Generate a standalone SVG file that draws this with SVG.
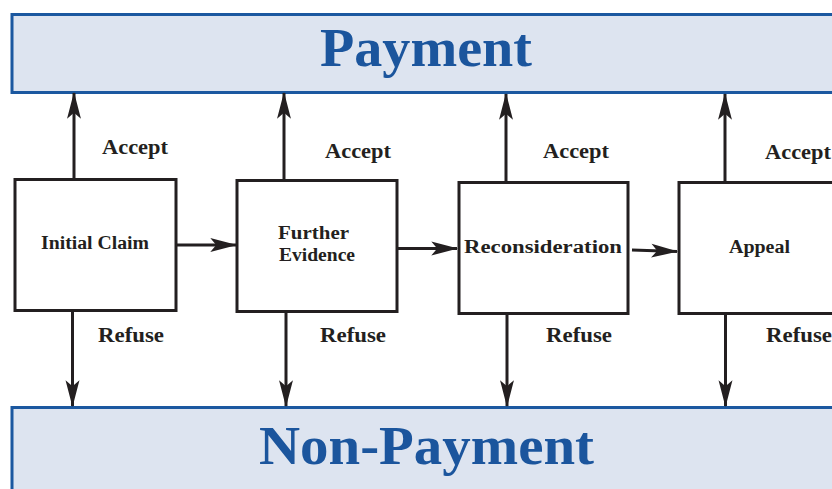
<svg xmlns="http://www.w3.org/2000/svg" width="832" height="489" viewBox="0 0 832 489">
  <defs>
    <marker id="head" markerUnits="userSpaceOnUse" markerWidth="30" markerHeight="20" viewBox="-26 -8 28 16" refX="0" refY="0" orient="auto">
      <path d="M1,0 L-24,-6.5 L-18.5,0 L-24,6.5 Z" fill="#231f20"/>
    </marker>
    <style>
      .bar { fill: #dde4f0; stroke: #1b58a0; stroke-width: 3; }
      .title { font-family: "Liberation Serif", "Times New Roman", serif; font-weight: bold; font-size: 55px; fill: #1b559d; text-anchor: middle; }
      .box { fill: #ffffff; stroke: #231f20; stroke-width: 3; }
      .label { font-family: "Liberation Serif", "Times New Roman", serif; font-weight: bold; font-size: 18px; fill: #231f20; text-anchor: middle; }
      .edge { font-family: "Liberation Serif", "Times New Roman", serif; font-weight: bold; font-size: 20px; fill: #231f20; }
      .conn { stroke: #231f20; stroke-width: 3; fill: none; marker-end: url(#head); }
    </style>
  </defs>

  <!-- outcome bars -->
  <g id="payment">
    <rect class="bar" x="12" y="14.5" width="840" height="78"/>
    <text class="title" x="426" y="66" textLength="212" lengthAdjust="spacingAndGlyphs">Payment</text>
  </g>
  <g id="non-payment">
    <rect class="bar" x="12" y="407.5" width="840" height="100"/>
    <text class="title" x="426.5" y="464" textLength="335" lengthAdjust="spacingAndGlyphs">Non-Payment</text>
  </g>

  <!-- process stages -->
  <g id="initial-claim">
    <rect class="box" x="15" y="179.5" width="161" height="131"/>
    <text class="label" x="95" y="249" textLength="108" lengthAdjust="spacingAndGlyphs">Initial Claim</text>
  </g>
  <g id="further-evidence">
    <rect class="box" x="237" y="180.5" width="160" height="131"/>
    <text class="label" x="313.5" y="239" textLength="71" lengthAdjust="spacingAndGlyphs">Further</text>
    <text class="label" x="317" y="260.5" textLength="76" lengthAdjust="spacingAndGlyphs">Evidence</text>
  </g>
  <g id="reconsideration">
    <rect class="box" x="459" y="182.5" width="169" height="131"/>
    <text class="label" x="543" y="252.5" textLength="158" lengthAdjust="spacingAndGlyphs">Reconsideration</text>
  </g>
  <g id="appeal">
    <rect class="box" x="679" y="182.5" width="165" height="131"/>
    <text class="label" x="759.5" y="252.5" textLength="61" lengthAdjust="spacingAndGlyphs">Appeal</text>
  </g>

  <!-- connectors -->
  <g id="connectors">
    <!-- stage to stage -->
    <line class="conn" x1="177" y1="245" x2="236" y2="245"/>
    <line class="conn" x1="398" y1="248.5" x2="457" y2="248.5"/>
    <line class="conn" x1="632" y1="250" x2="677" y2="251.5"/>
    <!-- accept: up to payment -->
    <line class="conn" x1="74" y1="179" x2="74" y2="93"/>
    <line class="conn" x1="284" y1="180" x2="284" y2="93"/>
    <line class="conn" x1="506" y1="182" x2="506" y2="94"/>
    <line class="conn" x1="725" y1="182" x2="725" y2="94"/>
    <!-- refuse: down to non-payment -->
    <line class="conn" x1="72.5" y1="312" x2="72.5" y2="406"/>
    <line class="conn" x1="286" y1="313" x2="286" y2="406"/>
    <line class="conn" x1="507" y1="315" x2="507" y2="406"/>
    <line class="conn" x1="725.5" y1="315" x2="725.5" y2="406"/>

    <text class="edge" x="102" y="154" textLength="66" lengthAdjust="spacingAndGlyphs">Accept</text>
    <text class="edge" x="325" y="158" textLength="66" lengthAdjust="spacingAndGlyphs">Accept</text>
    <text class="edge" x="543" y="158" textLength="66" lengthAdjust="spacingAndGlyphs">Accept</text>
    <text class="edge" x="765" y="159" textLength="66" lengthAdjust="spacingAndGlyphs">Accept</text>
    <text class="edge" x="98" y="342" textLength="66" lengthAdjust="spacingAndGlyphs">Refuse</text>
    <text class="edge" x="320" y="342" textLength="66" lengthAdjust="spacingAndGlyphs">Refuse</text>
    <text class="edge" x="546" y="342" textLength="66" lengthAdjust="spacingAndGlyphs">Refuse</text>
    <text class="edge" x="766" y="342" textLength="66" lengthAdjust="spacingAndGlyphs">Refuse</text>
  </g>
</svg>
